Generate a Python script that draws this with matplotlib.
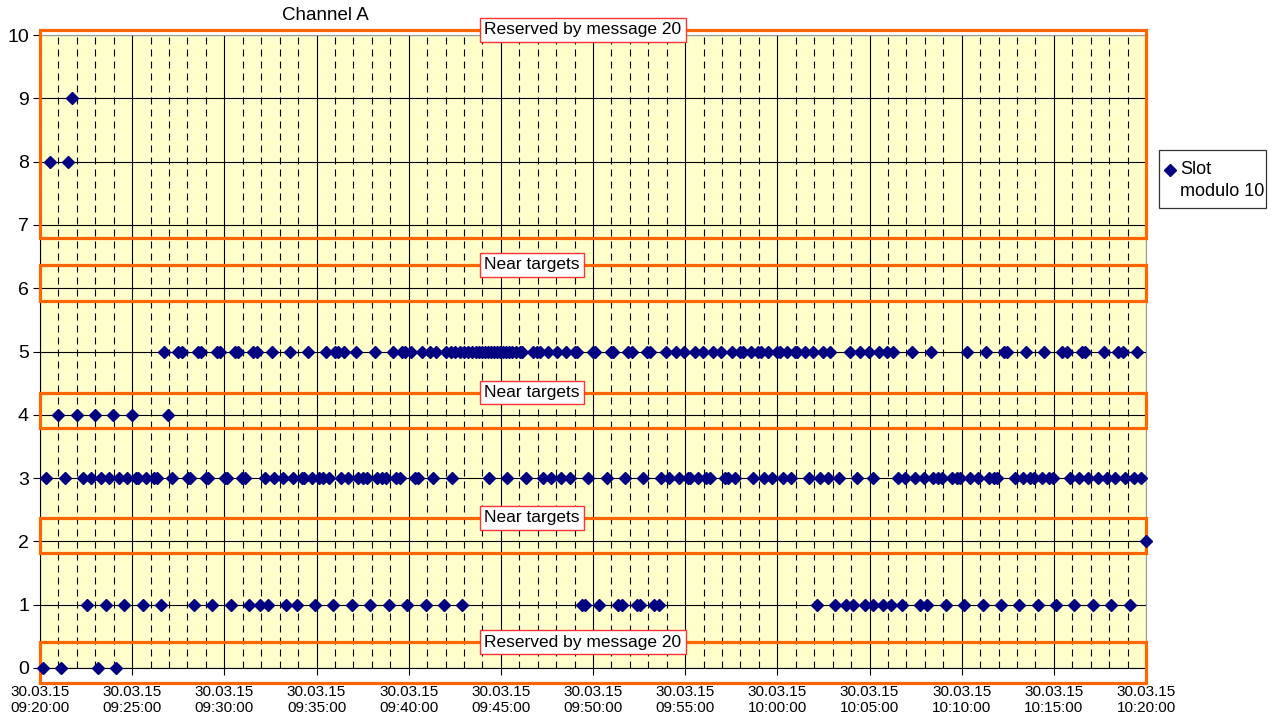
import datetime as dt
import matplotlib
matplotlib.use("Agg")
import matplotlib.pyplot as plt
import matplotlib.dates as mdates
from matplotlib.patches import Rectangle
from matplotlib.lines import Line2D

plt.rcParams['font.family'] = ['Liberation Sans', 'DejaVu Sans']

# ---- data: minutes after 30.03.15 09:20:00, grouped by slot modulo 10 ----
base = dt.datetime(2015, 3, 30, 9, 20, 0)

slot0 = [0.16, 1.14, 3.14, 4.15]
slot1 = [2.55, 3.58, 4.56, 5.57, 6.55, 8.35, 9.33, 10.35, 11.34, 11.94, 12.35, 13.35,
         13.93, 14.92, 15.91, 16.91, 17.92, 18.93, 19.93, 20.92, 21.92, 22.91, 29.39,
         29.57, 30.34, 31.37, 31.56, 32.39, 32.57, 33.29, 33.56, 42.15, 43.13, 43.71,
         44.12, 44.73, 45.21, 45.73, 46.15, 46.75, 47.74, 48.14, 49.15, 50.13, 51.14,
         52.12, 53.11, 54.13, 55.12, 56.11, 57.11, 58.10, 59.13]
slot2 = [60.0]
slot3 = [0.33, 1.36, 2.32, 2.77, 3.31, 3.76, 4.31, 4.74, 5.21, 5.30, 5.75, 6.19, 6.33,
         7.18, 8.01, 8.14, 8.99, 9.13, 10.04, 10.16, 10.96, 11.12, 12.21, 12.71, 13.17,
         13.75, 14.20, 14.32, 14.74, 15.16, 15.34, 15.70, 16.33, 16.73, 17.27, 17.54,
         17.76, 18.27, 18.54, 18.77, 19.32, 19.53, 20.35, 20.53, 21.34, 22.34, 24.36,
         25.32, 26.35, 27.31, 27.71, 28.25, 28.76, 29.75, 30.75, 31.74, 32.70, 33.70,
         34.15, 34.69, 35.18, 35.27, 35.72, 36.14, 36.35, 37.17, 37.31, 37.71, 38.70,
         39.28, 39.73, 40.30, 40.75, 41.73, 42.32, 42.74, 43.32, 44.31, 45.21, 46.57,
         46.93, 47.48, 47.93, 48.47, 48.74, 48.93, 49.47, 49.74, 49.92, 50.46, 50.91,
         51.46, 51.73, 51.91, 52.90, 53.35, 53.72, 53.90, 54.35, 54.75, 54.93, 55.89,
         56.34, 56.88, 57.39, 57.87, 58.34, 58.88, 59.33, 59.75]
slot4 = [0.99, 1.99, 2.98, 3.98, 4.98, 6.96]
slot5 = [6.73, 7.46, 7.70, 8.57, 8.73, 9.59, 9.77, 10.58, 10.76, 11.56, 11.75, 12.59,
         13.56, 14.54, 15.52, 16.00, 16.17, 16.49, 17.14, 18.17, 19.15, 19.64, 19.80,
         20.13, 20.72, 21.16, 21.48, 22.03, 22.30, 22.51, 22.79, 23.00, 23.22, 23.44,
         23.65, 23.82, 23.98, 24.14, 24.30, 24.47, 24.63, 24.79, 24.96, 25.12, 25.28,
         25.44, 25.61, 25.82, 26.04, 26.15, 26.75, 26.96, 27.13, 27.56, 28.05, 28.54,
         29.02, 29.13, 30.00, 30.11, 30.95, 31.11, 31.92, 32.10, 32.91, 33.09, 33.96,
         34.50, 34.96, 35.53, 35.98, 36.53, 36.97, 37.52, 37.98, 38.14, 38.55, 38.97,
         39.14, 39.52, 39.98, 40.12, 40.54, 40.96, 41.09, 41.50, 41.95, 42.49, 42.86,
         43.94, 44.49, 44.95, 45.52, 45.95, 46.30, 47.33, 48.32, 50.29, 51.32, 52.27,
         52.46, 53.49, 54.48, 55.46, 55.69, 56.51, 56.69, 57.72, 58.50, 58.75, 59.50]
slot8 = [0.54, 1.54]
slot9 = [1.75]

slots = {0: slot0, 1: slot1, 2: slot2, 3: slot3, 4: slot4, 5: slot5, 8: slot8, 9: slot9}

# highlighted zones: (bottom, top, label)
zones = [(6.80, 10.08, "Reserved by message 20"),
         (5.80, 6.37, "Near targets"),
         (3.79, 4.35, "Near targets"),
         (1.81, 2.37, "Near targets"),
         (-0.24, 0.41, "Reserved by message 20")]

title = "Channel A"
legend_lines = ["Slot", "modulo 10"]

# ---- build ----
xs, ys = [], []
for s, mins in slots.items():
    for m in mins:
        xs.append(base + dt.timedelta(minutes=m))
        ys.append(s)

W, H = 1273, 717
fig = plt.figure(figsize=(W / 100, H / 100), dpi=100)
ax = fig.add_axes([40 / W, 1 - 668 / H, (1146 - 40) / W, (668 - 35) / H])
ax.set_facecolor('#FFFFCC')

x0 = base
x1 = base + dt.timedelta(minutes=60)
ax.set_xlim(x0, x1)
ax.set_ylim(0, 10)

ax.xaxis.set_major_locator(mdates.MinuteLocator(byminute=range(0, 60, 5)))
ax.xaxis.set_minor_locator(mdates.MinuteLocator())
ax.xaxis.set_major_formatter(mdates.DateFormatter('%d.%m.%y\n%H:%M:%S'))
ax.set_yticks(range(0, 11))

ax.grid(which='major', axis='both', color='black', lw=0.8, zorder=0)
ax.grid(which='minor', axis='x', color='black', lw=0.8, linestyle=(0, (6.3, 4.5)), zorder=0)
ax.set_axisbelow(True)

ax.tick_params(axis='x', which='major', length=5, labelsize=11, color='black', pad=7)
ax.tick_params(axis='x', which='minor', length=0)
ax.tick_params(axis='y', which='major', length=5, labelsize=14, color='black', pad=3)

for side in ['top', 'right']:
    ax.spines[side].set_color('#999999')
ax.spines['left'].set_color('black')
ax.spines['bottom'].set_color('black')

xn0 = mdates.date2num(x0)
xn1 = mdates.date2num(x1)
lab_x = mdates.date2num(base + dt.timedelta(minutes=24.1))
for (b, t, lab) in zones:
    r = Rectangle((xn0, b), xn1 - xn0, t - b, fill=False, edgecolor='#FF6600',
                  lw=2.3, clip_on=False, zorder=3)
    ax.add_patch(r)
    ax.text(lab_x, t, lab, ha='left', va='center', fontsize=12.5, zorder=4,
            bbox=dict(boxstyle='square,pad=0.25', fc='white', ec='#FF3333', lw=1.0))

ax.plot(xs, ys, linestyle='none', marker='D', markersize=6.2, color='#000080',
        clip_on=False, zorder=5)

fig.text(325 / W, 1 - 15 / H, title, ha='center', va='center', fontsize=13.5)

# legend drawn manually (marker aligned with first text line)
fig.add_artist(Rectangle((1159 / W, 1 - 208 / H), (1266 - 1159) / W, (208 - 150) / H,
                         transform=fig.transFigure, fill=True, fc='white',
                         ec='#333333', lw=0.9))
fig.add_artist(Line2D([1170 / W], [1 - 170 / H], transform=fig.transFigure,
                      linestyle='none', marker='D', markersize=6, color='#000080'))
fig.text(1180 / W, 1 - 170 / H, legend_lines[0], ha='left', va='center', fontsize=13)
fig.text(1180 / W, 1 - 192 / H, legend_lines[1], ha='left', va='center', fontsize=13)

fig.savefig('out.png', dpi=100, facecolor='white')
